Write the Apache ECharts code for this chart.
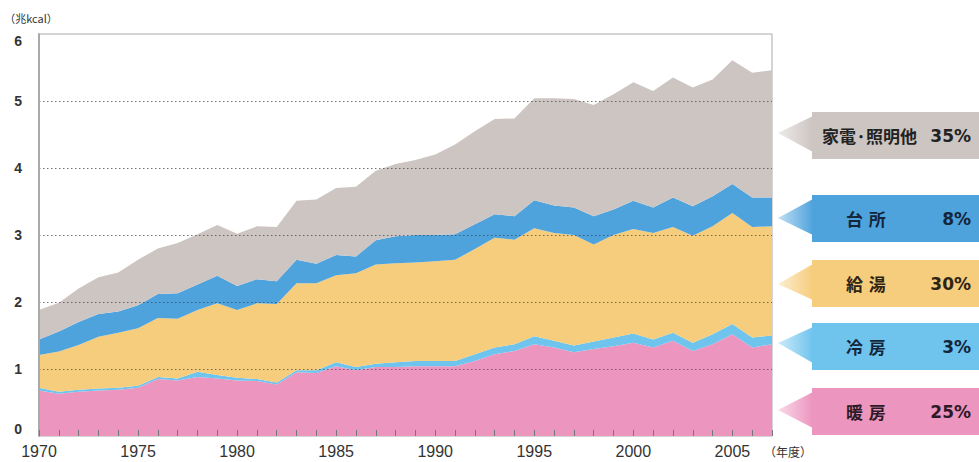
<!DOCTYPE html>
<html><head><meta charset="utf-8">
<script src="https://cdn.jsdelivr.net/npm/echarts@6/dist/echarts.min.js"></script>
<style>html,body{margin:0;padding:0;background:#fff}#c{width:979px;height:462px}</style>
</head><body><div id="c"></div>
<script>
// ---- data ----
const years = ['1970','1971','1972','1973','1974','1975','1976','1977','1978','1979',
  '1980','1981','1982','1983','1984','1985','1986','1987','1988','1989',
  '1990','1991','1992','1993','1994','1995','1996','1997','1998','1999',
  '2000','2001','2002','2003','2004','2005','2006','2007'];
const heating = [0.68,0.63,0.66,0.68,0.69,0.72,0.85,0.83,0.88,0.86,0.83,0.82,0.77,0.95,0.94,1.04,0.98,1.03,1.03,1.04,
  1.04,1.04,1.12,1.22,1.27,1.37,1.32,1.25,1.30,1.34,1.39,1.32,1.42,1.27,1.37,1.52,1.32,1.37];
const cooling = [0.04,0.03,0.03,0.03,0.03,0.03,0.03,0.03,0.08,0.05,0.04,0.03,0.03,0.03,0.04,0.06,0.05,0.05,0.07,0.08,
  0.08,0.08,0.10,0.10,0.10,0.12,0.10,0.10,0.11,0.13,0.14,0.12,0.12,0.12,0.15,0.15,0.15,0.13];
const hotWater = [0.49,0.60,0.67,0.77,0.82,0.86,0.88,0.89,0.92,1.07,1.01,1.13,1.17,1.30,1.30,1.30,1.40,1.48,1.48,1.47,
  1.49,1.51,1.57,1.64,1.56,1.61,1.61,1.65,1.45,1.53,1.56,1.59,1.58,1.60,1.61,1.66,1.65,1.63];
const kitchen = [0.23,0.30,0.34,0.34,0.32,0.34,0.36,0.38,0.38,0.41,0.36,0.36,0.34,0.35,0.29,0.30,0.25,0.36,0.40,0.41,
  0.39,0.38,0.37,0.35,0.35,0.42,0.41,0.41,0.42,0.38,0.42,0.38,0.44,0.44,0.45,0.43,0.44,0.43];
const appliances = [0.44,0.43,0.50,0.55,0.58,0.68,0.68,0.75,0.75,0.76,0.78,0.79,0.81,0.88,0.96,1.00,1.04,1.04,1.08,1.12,
  1.20,1.34,1.39,1.42,1.46,1.52,1.60,1.62,1.66,1.72,1.77,1.74,1.79,1.77,1.74,1.85,1.86,1.90];
const seriesNames = ['暖房','冷房','給湯','台所','家電・照明他'];
const calloutNames = ['暖\u2004房','冷\u2004房','給\u2004湯','台\u2004所','家電·照明他'];
const shareLabels = ['25%','3%','30%','8%','35%'];
const yTicks = [0,1,2,3,4,5,6];
const yUnit = '（兆kcal）';
const xUnit = '（年度）';

// ---- style ----
const colors = ['#ec95bf','#6fc4ee','#f6cd7c','#4fa3dd','#ccc5c2'];
const textColors = ['#2e1a26','#14263a','#2e2414','#14263a','#222'];
const values = [heating, cooling, hotWater, kitchen, appliances];
// callout layout (pixels): box top, arrow tip y
const boxTops = [388, 323, 260, 195, 112];
const tipYs = [410, 343, 284, 218, 133];

function rgba(hex, a) {
  const n = parseInt(hex.slice(1), 16);
  return 'rgba(' + (n >> 16 & 255) + ',' + (n >> 8 & 255) + ',' + (n & 255) + ',' + a + ')';
}

const chart = echarts.init(document.getElementById('c'), null, {renderer: 'svg'});

const graphics = [];
for (let i = 0; i < 5; i++) {
  const top = boxTops[i], h = 47, cy = top + h / 2;
  graphics.push({
    type: 'polygon',
    shape: {points: [[778, tipYs[i]], [813, top + 4], [813, top + 40]]},
    style: {fill: new echarts.graphic.LinearGradient(0, 0, 1, 0, [
      {offset: 0, color: rgba(colors[i], 0.35)}, {offset: 1, color: colors[i]}])},
    silent: true
  });
  graphics.push({
    type: 'rect', shape: {x: 812, y: top, width: 167, height: h},
    style: {fill: colors[i]}, silent: true
  });
  graphics.push({
    type: 'text', x: i === 4 ? 822 : 846, y: cy,
    style: {text: calloutNames[i], fill: textColors[i], align: 'left', verticalAlign: 'middle',
      font: 'bold 17px "Noto Sans CJK JP"'}, silent: true
  });
  graphics.push({
    type: 'text', x: 971, y: cy,
    style: {text: shareLabels[i], fill: textColors[i], align: 'right', verticalAlign: 'middle',
      font: 'bold 17px "DejaVu Sans", "Noto Sans CJK JP"'}, silent: true
  });
}

chart.setOption({
  animation: false,
  backgroundColor: '#fff',
  grid: {left: 39, right: 207, top: 34, bottom: 26, show: true, borderColor: '#aaa', borderWidth: 1},
  xAxis: {
    type: 'category', data: years, boundaryGap: false, z: 5,
    name: xUnit, nameLocation: 'end', nameGap: -8,
    nameTextStyle: {color: '#333', fontSize: 12, verticalAlign: 'top', padding: [9, 0, 0, 0],
      fontFamily: 'Noto Sans CJK JP'},
    axisLine: {show: false},
    axisTick: {show: true, inside: true, length: 6, interval: 0, lineStyle: {color: '#777'}},
    axisLabel: {
      color: '#333', fontSize: 16, margin: 7, fontFamily: 'Liberation Sans',
      interval: function (idx, val) { return (+val) % 5 === 0; }
    }
  },
  yAxis: {
    type: 'value', min: yTicks[0], max: yTicks[yTicks.length - 1], interval: 1, z: 5,
    name: yUnit, nameLocation: 'end', nameGap: 11,
    nameTextStyle: {color: '#333', fontSize: 11, align: 'center', padding: [0, 16, 0, 0],
      fontFamily: 'Noto Sans CJK JP'},
    axisLine: {show: true, lineStyle: {color: '#aaa', width: 2}},
    axisTick: {show: false},
    axisLabel: {color: '#333', fontSize: 14, fontWeight: 'bold', margin: 17, fontFamily: 'Liberation Sans',
      verticalAlignMinLabel: 'bottom', verticalAlignMaxLabel: 'top'},
    splitLine: {show: true, showMinLine: false, showMaxLine: false,
      lineStyle: {type: [1.5, 2.5], color: 'rgba(70,70,70,0.75)', width: 1.2}}
  },
  series: values.map((d, i) => ({
    name: seriesNames[i], type: 'line', stack: 'total', data: d,
    showSymbol: false, symbol: 'none', smooth: false,
    lineStyle: {width: 0}, areaStyle: {color: colors[i], opacity: 1}, z: 2
  })),
  graphic: graphics
});
</script></body></html>
